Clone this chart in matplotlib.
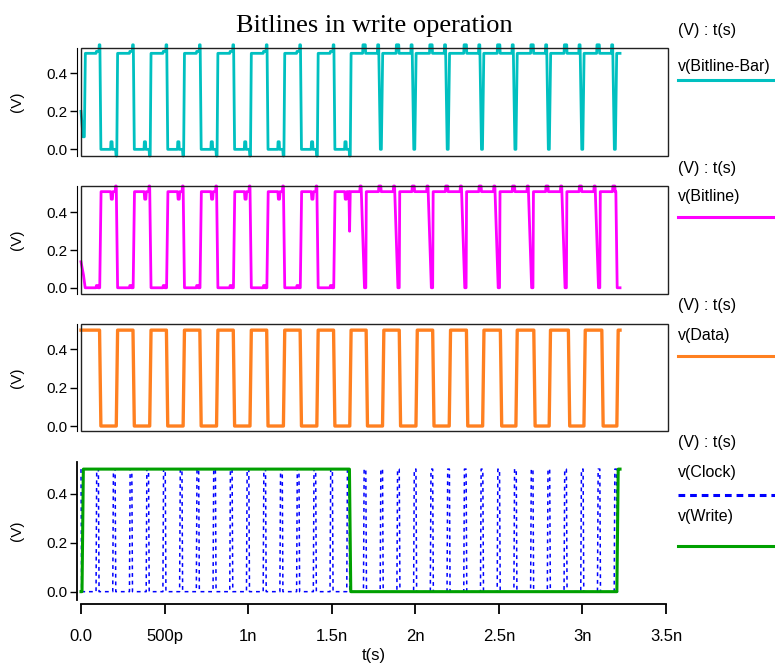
import matplotlib
matplotlib.use('Agg')
import matplotlib.pyplot as plt
from matplotlib.lines import Line2D
from matplotlib.patches import Rectangle

plt.rcParams['font.family'] = ['Liberation Sans', 'DejaVu Sans']

# time axis is in ns
x_ticks = [0, 0.5, 1, 1.5, 2, 2.5, 3, 3.5]
x_labels = ['0.0', '500p', '1n', '1.5n', '2n', '2.5n', '3n', '3.5n']
y_ticks = [0.0, 0.2, 0.4]
y_labels = ['0.0', '0.2', '0.4']

VDD = 0.5
t_end = 3.225

# Data input: toggle times (starts high)
data_edges = [0.115, 0.215, 0.315, 0.415, 0.515, 0.615, 0.715, 0.815,
              0.915, 1.015, 1.115, 1.215, 1.315, 1.415, 1.515, 1.612,
              1.71, 1.808, 1.908, 2.008, 2.108, 2.207, 2.31, 2.407,
              2.513, 2.606, 2.713, 2.805, 2.92, 3.013, 3.12, 3.21]

# Clock: start of each narrow pulse
clock_pulses = [0.09, 0.19, 0.29, 0.39, 0.49, 0.59, 0.69, 0.79,
                0.89, 0.99, 1.09, 1.19, 1.29, 1.39, 1.49, 1.59,
                1.69, 1.79, 1.89, 1.99, 2.09, 2.19, 2.29, 2.39,
                2.49, 2.59, 2.69, 2.79, 2.89, 2.99, 3.09, 3.19]

# Write enable: toggle times (starts low)
write_edges = [0.01, 1.61, 3.21]

# Bitline-Bar: write phase edges and read phase discharge dips
blb_fall = [0.115, 0.315, 0.515, 0.715, 0.915, 1.115, 1.315, 1.515]
blb_rise = [0.215, 0.415, 0.615, 0.815, 1.015, 1.215, 1.415, 1.612]
blb_dips = [1.785, 1.985, 2.185, 2.39, 2.59, 2.79, 2.99, 3.185]

# Bitline: write phase edges, read phase dips
bl_rise = [0.115, 0.315, 0.515, 0.715, 0.915, 1.115, 1.315, 1.515]
bl_fall = [0.215, 0.415, 0.615, 0.815, 1.015, 1.215, 1.415]
bl_glitch = 1.607
bl_dips = [1.69, 1.89, 2.09, 2.29, 2.49, 2.69, 2.89, 3.09]
bl_last_fall = 3.203


def square(edges, v0, tr=0.008):
    t, v = [0.0], [v0]
    lev = v0
    for e in edges:
        t += [e - tr / 2, e + tr / 2]
        v += [lev, VDD - lev]
        lev = VDD - lev
    if t[-1] < t_end:
        t.append(t_end)
        v.append(lev)
    return t, v


def clock_wave():
    t, v = [0.0, 0.004], [VDD, 0.0]
    for c in clock_pulses:
        t += [c, c + 0.004, c + 0.014, c + 0.018]
        v += [0.0, VDD, VDD, 0.0]
    t.append(t_end)
    v.append(0.0)
    return t, v


def bitline_bar():
    t = [0.0, 0.012, 0.02, 0.026]
    v = [0.2, 0.066, 0.066, 0.505]
    for f, r in zip(blb_fall, blb_rise):
        c = f - 0.025
        t += [c, c + 0.002, f - 0.008, f - 0.006, f - 0.002, f + 0.004]
        v += [0.505, 0.515, 0.515, 0.55, 0.55, 0.0]
        b = f + 0.065
        t += [b - 0.003, b - 0.001, b + 0.006, b + 0.008]
        v += [0.0, 0.04, 0.04, 0.0]
        t += [r - 0.008, r - 0.005, r - 0.001, r + 0.004]
        v += [0.0, -0.035, -0.035, 0.505]
    for d in blb_dips:
        s = d - 0.1
        t += [s, s + 0.002, s + 0.016, s + 0.018]
        v += [0.505, 0.55, 0.55, 0.505]
        t += [d - 0.012, d - 0.01, d - 0.004, d + 0.006, d + 0.012, d + 0.02]
        v += [0.505, 0.55, 0.55, 0.0, 0.0, 0.505]
    t.append(t_end)
    v.append(0.505)
    return t, v


def bitline():
    t = [0.0, 0.015, 0.025]
    v = [0.138, 0.067, 0.0]
    for i, r in enumerate(bl_rise):
        c = r - 0.025
        t += [c, c + 0.002, c + 0.01, c + 0.012]
        v += [0.0, 0.012, 0.012, 0.0]
        t += [r - 0.003, r + 0.005]
        v += [0.0, 0.51]
        d = r + 0.065
        t += [d - 0.002, d + 0.001, d + 0.008, d + 0.011]
        v += [0.51, 0.47, 0.47, 0.51]
        if i < len(bl_fall):
            f = bl_fall[i]
            t += [f - 0.01, f - 0.008, f - 0.004, f + 0.004]
            v += [0.51, 0.54, 0.54, 0.0]
    t += [bl_glitch - 0.004, bl_glitch, bl_glitch + 0.004]
    v += [0.51, 0.30, 0.51]
    for d in bl_dips:
        t += [d - 0.022, d - 0.02, d - 0.014, d + 0.006, d + 0.014, d + 0.017]
        v += [0.51, 0.54, 0.54, 0.0, 0.0, 0.51]
        s = d + 0.09
        t += [s, s + 0.002, s + 0.014, s + 0.016]
        v += [0.51, 0.54, 0.54, 0.51]
    t += [bl_last_fall - 0.003, bl_last_fall + 0.005, t_end]
    v += [0.51, 0.0, 0.0]
    return t, v


W, H = 775, 666
fig = plt.figure(figsize=(W / 100, H / 100), dpi=100)


def px_axes(l, top, r, b):
    return fig.add_axes([l / W, 1 - b / H, (r - l) / W, (b - top) / H])


def style_left(ax, ylim):
    ax.set_ylim(*ylim)
    ax.set_yticks(y_ticks)
    ax.set_yticklabels(y_labels)
    ax.tick_params(axis='y', direction='out', length=5, width=1,
                   labelsize=11, pad=2)
    ax.spines['left'].set_position(('outward', 3))
    ax.set_ylabel('(V)', fontsize=11)
    ax.yaxis.set_label_coords(-0.097, 0.5)


top_panels = [
    ((81, 48, 668, 156), (-0.035, 0.533)),
    ((81, 186, 668, 294), (-0.033, 0.54)),
    ((81, 324, 668, 431), (-0.026, 0.532)),
]
axes = []
for rect, ylim in top_panels:
    ax = px_axes(*rect)
    ax.set_xlim(0, 3.512)
    style_left(ax, ylim)
    for s in ['top', 'right', 'bottom']:
        ax.spines[s].set_visible(False)
    ax.add_patch(Rectangle((0, 0), 1, 1, transform=ax.transAxes, fill=False,
                           lw=1, ec='#222222', clip_on=False, zorder=5))
    ax.tick_params(axis='x', bottom=False, labelbottom=False)
    axes.append(ax)

ax1, ax2, ax3 = axes
t, v = bitline_bar()
ax1.plot(t, v, color='#00c0c0', lw=2, clip_on=False)
t, v = bitline()
ax2.plot(t, v, color='#ff00ff', lw=2, clip_on=False)
t, v = square(data_edges, VDD)
ax3.plot(t, v, color='#ff8020', lw=2.4, clip_on=False)

ax4 = px_axes(81, 462, 666, 600)
ax4.set_xlim(0, 3.5)
style_left(ax4, (-0.034, 0.529))
ax4.spines['top'].set_visible(False)
ax4.spines['right'].set_visible(False)
ax4.spines['bottom'].set_position(('outward', 3))
ax4.spines['bottom'].set_linewidth(1.3)
ax4.spines['left'].set_linewidth(1.3)
ax4.set_xticks(x_ticks)
ax4.set_xticklabels(x_labels)
ax4.tick_params(axis='x', direction='out', length=7, width=1.3,
                labelsize=12, pad=11)
ax4.set_xlabel('t(s)', fontsize=12, labelpad=3)
t, v = clock_wave()
ax4.plot(t, v, color='#0000ff', lw=1.1, ls=(0, (2.5, 2.5)), clip_on=False)
t, v = square(write_edges, 0.0)
ax4.plot(t, v, color='#00a000', lw=2.2, clip_on=False)

fig.text(374 / W, 1 - 26 / H, 'Bitlines in write operation',
         family='Liberation Serif', fontsize=19, ha='center', va='center')

# legend block on the right of each panel
x0 = 678 / W
legend_items = [
    (30, [(66, 'v(Bitline-Bar)', 80, '#00c0c0', '-')]),
    (168, [(196, 'v(Bitline)', 217, '#ff00ff', '-')]),
    (305, [(336, 'v(Data)', 356, '#ff8020', '-')]),
    (443, [(473, 'v(Clock)', 495, '#0000ff', (0, (2.2, 1.6))),
           (516, 'v(Write)', 546, '#00a000', '-')]),
]
for yh, entries in legend_items:
    fig.text(x0, 1 - yh / H, '(V) : t(s)', fontsize=11.5, va='center')
    for yt, name, yl, col, ls in entries:
        fig.text(x0, 1 - yt / H, name, fontsize=11.5, va='center')
        fig.add_artist(Line2D([x0, 1.0], [1 - yl / H] * 2, color=col,
                              lw=2.2, ls=ls, transform=fig.transFigure))

fig.savefig('out.png', dpi=100)
